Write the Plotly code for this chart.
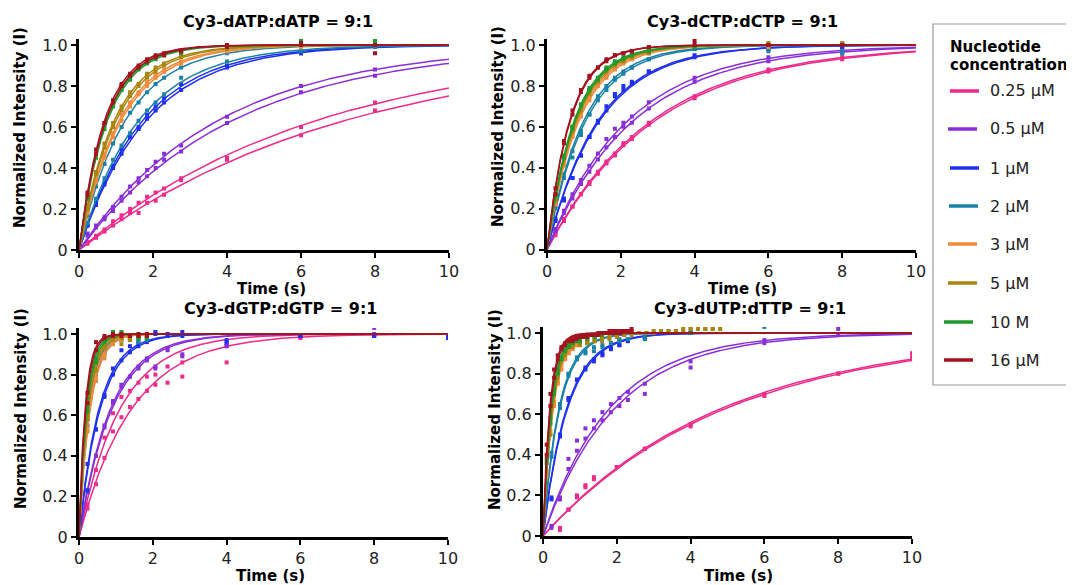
import numpy as np
import plotly.graph_objects as go

W, H = 1074, 585
PAGE_OFFSET = 8  # default body margin of the html page

conc_labels = ["0.25 µM", "0.5 µM", "1 µM", "2 µM", "3 µM", "5 µM", "10 M", "16 µM"]
colors = ["#EE2A8B", "#8A2FD8", "#1F30EE", "#1A82A6", "#F28A3C", "#A8860E", "#1F9A2C", "#A5121F"]

x_ticks = [0, 2, 4, 6, 8, 10]
y_ticks = [0, 0.2, 0.4, 0.6, 0.8, 1.0]
y_tick_text = ["0", "0.2", "0.4", "0.6", "0.8", "1.0"]

# ---------------- Panel 1: Cy3-dATP:dATP ----------------
dATP_t = [0.23, 0.46, 0.69, 0.92, 1.15, 1.38, 1.61, 1.84, 2.07, 2.3, 2.76, 4, 6, 8]
dATP_k = [[0.156, 0.139], [0.266, 0.241], [0.58, 0.55], [0.80, 0.62],
          [0.92, 0.88], [1.05, 1.00], [1.35, 1.30], [1.45, 1.38]]
dATP_y = [
    [[.04, .07, .10, .14, .17, .20, .23, .26, .28, .30, .35, .45, .60, .72],
     [.03, .06, .09, .12, .15, .18, .18, .23, .24, .27, .34, .44, .56, .68]],
    [[.08, .12, .16, .21, .26, .31, .35, .39, .43, .47, .51, .65, .80, .88],
     [.07, .11, .15, .19, .24, .28, .33, .36, .40, .44, .48, .62, .77, .85]],
    [[.12, .23, .33, .41, .49, .55, .60, .66, .70, .74, .81, .90, .96, .99],
     [.12, .22, .32, .40, .47, .55, .59, .64, .68, .72, .78, .89, .96, .99]],
    [[.17, .31, .42, .52, .60, .67, .72, .77, .81, .84, .89, .96, .99, 1.0],
     [.13, .25, .35, .44, .51, .57, .63, .68, .72, .76, .84, .92, .97, .99]],
    [[.19, .35, .47, .57, .66, .72, .77, .82, .85, .88, .92, .97, 1.0, 1.0],
     [.18, .33, .45, .55, .63, .70, .76, .80, .84, .87, .91, .97, .99, 1.0]],
    [[.22, .38, .52, .62, .70, .77, .81, .86, .89, .91, .95, .98, 1.0, 1.0],
     [.20, .37, .50, .60, .68, .75, .80, .84, .87, .90, .94, .98, 1.0, 1.0]],
    [[.26, .46, .61, .71, .79, .85, .89, .92, .94, .95, .96, .99, 1.02, 1.02],
     [.25, .45, .59, .70, .78, .83, .88, .91, .93, .95, .97, .99, 1.01, 1.0]],
    [[.28, .49, .62, .73, .81, .86, .90, .93, .95, .96, .97, .99, 1.01, .96],
     [.27, .47, .62, .72, .80, .85, .89, .92, .94, .95, .97, 1.0, 1.0, 1.0]],
]

# ---------------- Panel 2: Cy3-dCTP:dCTP ----------------
dCTP_t = [0.23, 0.46, 0.69, 0.92, 1.15, 1.38, 1.61, 1.84, 2.07, 2.3, 2.76, 4, 6, 8]
dCTP_k = [[0.35, 0.34], [0.455, 0.425], [0.72, 0.70], [1.00, 0.95],
          [1.20, 1.15], [1.30, 1.25], [1.35, 1.30], [1.62, 1.58]]
dCTP_y = [
    [[.08, .15, .21, .27, .33, .38, .43, .47, .52, .55, .62, .75, .88, .94],
     [.07, .14, .21, .27, .32, .37, .42, .46, .51, .54, .61, .74, .87, .93]],
    [[.10, .19, .27, .34, .41, .47, .54, .59, .62, .65, .72, .84, .94, .97],
     [.09, .18, .25, .32, .38, .44, .50, .55, .60, .62, .69, .82, .92, .96]],
    [[.15, .25, .35, .46, .55, .63, .70, .76, .80, .82, .87, .95, .98, .99],
     [.14, .24, .35, .46, .55, .62, .68, .75, .78, .81, .87, .94, .98, .99]],
    [[.21, .37, .45, .56, .66, .75, .80, .84, .87, .89, .93, .98, .97, .96],
     [.20, .35, .48, .58, .66, .73, .78, .83, .86, .89, .93, .98, .98, .97]],
    [[.22, .42, .56, .67, .75, .81, .85, .89, .92, .94, .96, .99, 1.0, 1.0],
     [.23, .41, .55, .65, .73, .80, .84, .88, .91, .93, .96, .99, .99, 1.0]],
    [[.25, .45, .60, .70, .78, .84, .88, .91, .93, .95, .97, .99, 1.01, 1.01],
     [.24, .44, .58, .68, .76, .82, .87, .90, .92, .94, .96, .99, 1.0, 1.0]],
    [[.27, .46, .60, .71, .79, .84, .89, .92, .94, .95, .98, .99, 1.0, 1.0],
     [.26, .45, .59, .70, .78, .83, .88, .91, .93, .95, .97, .99, 1.0, 1.0]],
    [[.27, .53, .68, .78, .85, .89, .93, .95, .96, .97, .99, 1.0, 1.0, 1.0],
     [.30, .52, .66, .77, .84, .89, .92, .95, .96, .97, .99, 1.02, 1.0, 1.0]],
]

# ---------------- Panel 3: Cy3-dGTP:dGTP ----------------
dGTP_t = [0.23, 0.46, 0.69, 0.92, 1.15, 1.38, 1.61, 1.84, 2.07, 2.4, 2.8, 4, 6, 8, 10]
dGTP_k = [[0.90, 0.70], [1.17, 1.12], [1.85, 1.75], [3.8, 3.4],
          [3.6, 3.3], [4.3, 4.0], [5.0, 4.6], [6.0, 5.5]]
dGTP_y = [
    [[.16, .33, .49, .61, .69, .72, .76, .79, .80, .84, .86, .94, .99],
     [.14, .26, .39, .52, .59, .64, .68, .72, .75, .76, .79, .86, .98]],
    [[.23, .40, .55, .67, .75, .79, .84, .88, .84, .92, .90, .95, .99, 1.03],
     [.22, .40, .54, .66, .74, .79, .83, .87, .83, .93, .89, .94, .99, 1.0]],
    [[.36, .53, .70, .83, .92, .94, .96, .97, 1.01, 1.0, 1.01, .96, .99, .99, .99],
     [.23, .53, .69, .80, .87, .91, .94, .96, 1.0, .99, .99, .97, .99, .99, .98]],
    [[.58, .80, .92, .96, .98, .97, .96, .97],
     [.55, .77, .90, .95, .97, .98, .98, .98]],
    [[.52, .78, .90, .96, .98, .98, .99, .99],
     [.53, .77, .88, .95, .97, .98, .98, .99]],
    [[.60, .85, .95, .97, .95, .97, .98, .99],
     [.58, .82, .93, .97, .98, .99, .99, .99]],
    [[.64, .88, .97, 1.01, 1.01, .99, .99, .98],
     [.62, .86, .96, .99, 1.0, .99, .98, .98]],
    [[.71, .96, .99, 1.0, .99, .99, .99, 1.0],
     [.66, .92, .98, .99, 1.0, .99, 1.0, .99]],
]

# ---------------- Panel 4: Cy3-dUTP:dTTP ----------------
dUTP_pink_t = [0.46, 0.69, 0.92, 1.15, 1.38, 2.0, 2.76, 4, 6, 8, 10]
dUTP_mid_t = [0.23, 0.46, 0.69, 0.92, 1.15, 1.38, 1.61, 1.84, 2.07, 2.3, 2.76, 4, 6, 8]
dUTP_fast_t = [0.1, 0.2, 0.3, 0.4, 0.5, 0.6, 0.7, 0.8, 0.9, 1.0, 1.2, 1.4, 1.6]
dUTP_olive_t = [0.2, 0.4, 0.6, 0.8, 1.0, 1.2, 1.4, 1.6, 1.8, 2.0, 2.2, 2.4,
                2.6, 2.8, 3.0, 3.2, 3.4, 3.6, 3.8, 4.0, 4.2, 4.4, 4.6, 4.8]
dUTP_red_t = [0.1, 0.2, 0.3, 0.4, 0.5, 0.6, 0.7, 0.8, 0.9, 1.0, 1.1, 1.2,
              1.3, 1.4, 1.5, 1.6, 1.7, 1.8, 1.9, 2.0, 2.1, 2.2, 2.3, 2.4]
dUTP_t = [dUTP_pink_t, dUTP_mid_t, dUTP_mid_t, dUTP_mid_t,
          dUTP_fast_t, dUTP_olive_t, dUTP_fast_t, dUTP_red_t]
dUTP_k = [[0.205, 0.20], [0.55, 0.51], [1.55, 1.50], [2.3, 2.2],
          [3.8, 3.6], [4.0, 3.8], [4.5, 4.3], [5.4, 5.0]]
dUTP_y = [
    [[.04, .13, .20, .25, .29, .34, .43, .55, .69, .80, .90],
     [.03, .13, .19, .24, .28, .34, .43, .54, .70, .80, .88]],
    [[.05, .19, .38, .47, .53, .57, .61, .65, .68, .71, .75, .86, .965, 1.02],
     [.04, .18, .33, .42, .48, .53, .57, .61, .64, .67, .70, .83, .95, .99]],
    [[.19, .50, .68, .77, .82, .87, .90, .93, .94, .96, .98, 1.0],
     [.18, .49, .67, .77, .83, .86, .89, .92, .94, .96, .97, 1.0]],
    [[.39, .65, .80, .88, .91, .93, .94, .95, .96, .97, .98, 1.0, 1.03],
     [.41, .63, .79, .87, .90, .91, .93, .95, .97, .97, .97, 1.0]],
    [[.32, .52, .66, .76, .84, .88, .91, .93, .94, .95, .96, .97, .98],
     [.30, .50, .64, .75, .82, .87, .90, .92, .94, .95, .96, .97, .97]],
    [[.55, .82, .91, .94, .95, .95, .96, .97, .98, .99, .99, 1.0,
      1.0, 1.0, 1.01, 1.01, 1.01, 1.01, 1.02, 1.02, 1.02, 1.02, 1.02, 1.02],
     [.50, .78, .89, .93, .94, .95, .96, .96, .97, .98, .99, .99,
      1.0, 1.0, 1.0, 1.01, 1.01, 1.01, 1.01, 1.02, 1.02, 1.02, 1.02, 1.02]],
    [[.38, .58, .72, .82, .88, .92, .94, .95, .96, .97, .98, .98, .99],
     [.36, .56, .70, .80, .87, .91, .93, .95, .96, .96, .97, .98, .99]],
    [[.45, .70, .82, .89, .93, .95, .96, .97, .975, .98, .985, .99,
      .99, .99, 1.0, 1.0, 1.0, 1.01, 1.0, 1.0, 1.01, 1.01, 1.01, 1.01],
     [.40, .64, .78, .87, .92, .94, .96, .96, .97, .98, .98, .98,
      .99, .99, .99, 1.0, 1.0, 1.0, 1.01, 1.01, 1.0, 1.01, 1.01, 1.02]],
]

panel_titles = ["Cy3-dATP:dATP = 9:1", "Cy3-dCTP:dCTP = 9:1",
                "Cy3-dGTP:dGTP = 9:1", "Cy3-dUTP:dTTP = 9:1"]

# ---------------- layout geometry (screen pixels) ----------------
# (x of t=0, x of t=10, y of I=1.0, y of I=0)
boxes = [(79, 449, 45, 250), (547, 916, 45, 249.5), (79, 448, 334, 537), (543, 912, 333, 536)]
YMAX = 1.03


def px(x):
    return (x - PAGE_OFFSET) / W


def py(y):
    return 1 - (y - PAGE_OFFSET) / H


fig = go.Figure()
panel_data = [(dATP_t, dATP_k, dATP_y), (dCTP_t, dCTP_k, dCTP_y),
              (dGTP_t, dGTP_k, dGTP_y), (dUTP_t, dUTP_k, dUTP_y)]

xfit = np.linspace(0, 10, 1001)
for i, (times, ks, ys) in enumerate(panel_data):
    sfx = "" if i == 0 else str(i + 1)
    xa, ya = "x" + sfx, "y" + sfx
    for c in range(8):
        tc = times[c] if isinstance(times[0], list) else times
        for r in range(2):
            k = ks[c][r]
            fig.add_trace(go.Scatter(
                x=xfit, y=1 - np.exp(-k * xfit), mode="lines",
                line=dict(color=colors[c], width=1.5),
                xaxis=xa, yaxis=ya, showlegend=False, hoverinfo="skip"))
        for r in range(2):
            yv = ys[c][r]
            fig.add_trace(go.Scatter(
                x=tc[:len(yv)], y=yv, mode="markers",
                marker=dict(symbol="square", size=4, color=colors[c]),
                xaxis=xa, yaxis=ya, showlegend=False, hoverinfo="skip"))

axis_common = dict(showline=True, linecolor="black", linewidth=3, ticks="outside",
                   ticklen=5, tickwidth=2, tickcolor="black", showgrid=False,
                   zeroline=False, automargin=False,
                   tickfont=dict(family="DejaVu Sans", size=16, color="#222"))

layout = dict(width=W, height=H, margin=dict(l=0, r=0, t=0, b=0, autoexpand=False),
              paper_bgcolor="white", plot_bgcolor="white", showlegend=False)
for i, (x0, x1, y1, y0) in enumerate(boxes):
    sfx = "" if i == 0 else str(i + 1)
    top = y0 - YMAX * (y0 - y1)
    layout["xaxis" + sfx] = dict(domain=[px(x0), px(x1)], range=[0, 10],
                                 tickvals=x_ticks, anchor="y" + sfx, **axis_common)
    layout["yaxis" + sfx] = dict(domain=[py(y0), py(top)], range=[0, YMAX],
                                 tickvals=y_ticks, ticktext=y_tick_text,
                                 anchor="x" + sfx, **axis_common)
fig.update_layout(**layout)

annotations = []
title_pos = [(278, 21), (742, 21), (280, 309), (750, 309)]
xt_pos = [(271, 289), (742, 289), (270, 576), (738, 576)]
yt_pos = [(20, 128), (498, 127), (21, 409), (495, 410)]
bold = dict(family="DejaVu Sans", size=16, color="black")
for i in range(4):
    annotations.append(dict(text="<b>%s</b>" % panel_titles[i], x=px(title_pos[i][0]),
                            y=py(title_pos[i][1]), xref="paper", yref="paper",
                            showarrow=False, xanchor="center", yanchor="middle", font=bold))
    annotations.append(dict(text="<b>Time (s)</b>", x=px(xt_pos[i][0]), y=py(xt_pos[i][1]),
                            xref="paper", yref="paper", showarrow=False,
                            xanchor="center", yanchor="middle",
                            font=dict(family="DejaVu Sans", size=15, color="black")))
    annotations.append(dict(text="<b>Normalized Intensity (I)</b>", x=px(yt_pos[i][0]),
                            y=py(yt_pos[i][1]), xref="paper", yref="paper", showarrow=False,
                            textangle=-90, xanchor="center", yanchor="middle",
                            font=dict(family="DejaVu Sans", size=15, color="black")))

# legend (drawn manually)
shapes = [dict(type="rect", xref="paper", yref="paper", x0=px(933), x1=px(1090),
               y0=py(385), y1=py(24), line=dict(color="#9a9a9a", width=1.2),
               fillcolor="white", layer="below")]
annotations.append(dict(text="<b>Nucleotide</b>", x=px(948), y=py(47), xref="paper",
                        yref="paper", showarrow=False, xanchor="left", yanchor="middle",
                        font=dict(family="DejaVu Sans", size=15, color="black")))
annotations.append(dict(text="<b>concentration</b>", x=px(948), y=py(65), xref="paper",
                        yref="paper", showarrow=False, xanchor="left", yanchor="middle",
                        font=dict(family="DejaVu Sans", size=15, color="black")))
leg_y = [91, 129, 168, 206, 244, 283, 322, 360]
leg_x0 = [950, 948, 950, 949, 948, 948, 944, 944]
for c in range(8):
    shapes.append(dict(type="line", xref="paper", yref="paper",
                       x0=px(leg_x0[c]), x1=px(leg_x0[c] + 29),
                       y0=py(leg_y[c]), y1=py(leg_y[c]),
                       line=dict(color=colors[c], width=3.5)))
    annotations.append(dict(text=conc_labels[c], x=px(988), y=py(leg_y[c]), xref="paper",
                            yref="paper", showarrow=False, xanchor="left", yanchor="middle",
                            font=dict(family="DejaVu Sans", size=16, color="#222")))

fig.update_layout(annotations=annotations, shapes=shapes)
fig.write_html("out.html")
